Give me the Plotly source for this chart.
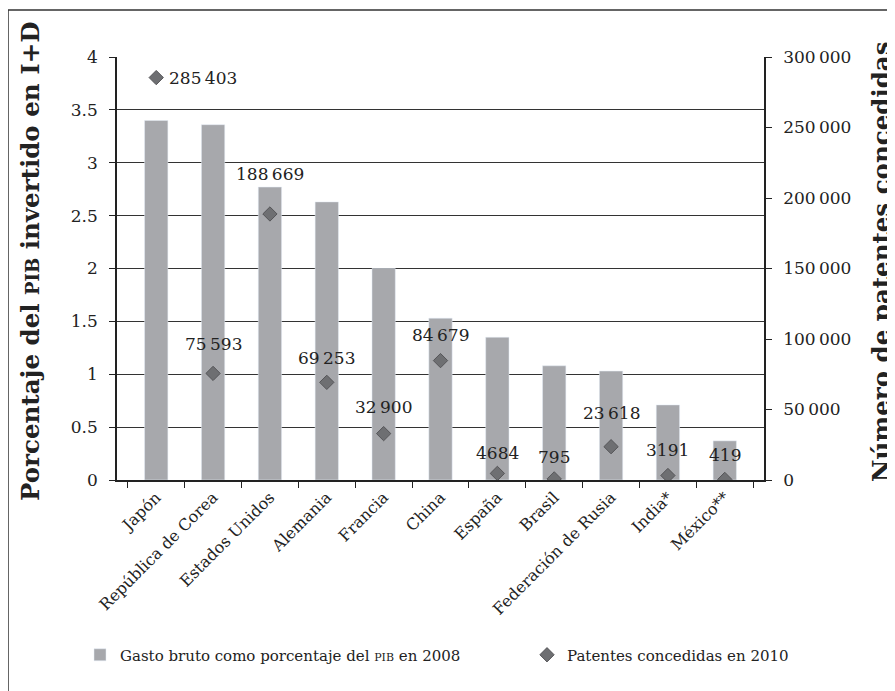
import plotly.graph_objects as go

categorias = ["Japón", "República de Corea", "Estados Unidos", "Alemania", "Francia",
              "China", "España", "Brasil", "Federación de Rusia", "India*", "México**"]
gasto_pib_2008 = [3.40, 3.36, 2.77, 2.63, 2.00, 1.53, 1.35, 1.08, 1.03, 0.71, 0.37]
patentes_2010 = [285403, 75593, 188669, 69253, 32900, 84679, 4684, 795, 23618, 3191, 419]
y1_ticks = [0, 0.5, 1, 1.5, 2, 2.5, 3, 3.5, 4]
y2_ticks = [0, 50000, 100000, 150000, 200000, 250000, 300000]
y2_ticktext = ["0", "50\u2009000", "100\u2009000", "150\u2009000", "200\u2009000", "250\u2009000", "300\u2009000"]

# label placement (style, pixels)
label_shift_y = [0, 29, 40, 24, 27, 26, 20, 22, 34, 26, 24]


def fmt(v):
    s = str(v)
    if v >= 10000:
        s = s[:-3] + "\u2009" + s[-3:]
    return s


FONT = "DejaVu Serif"
BAR = "#a7a8ac"
DIA = "#6e6f72"
TXT = "#222"

OFF = 8  # page body margin
W, H = 895 - OFF, 691 - OFF
L, R, T, B = 117 - OFF, 764 - OFF, 57 - OFF, 480 - OFF
pw, ph = R - L, B - T


def px(x):
    return (x - OFF - L) / pw


def py(y):
    return (B - (y - OFF)) / ph


fig = go.Figure()
fig.add_trace(go.Bar(
    x=categorias, y=gasto_pib_2008, marker_color=BAR, width=0.41,
    name="Gasto bruto como porcentaje del <span style='font-size:11px'>PIB</span> en 2008",
    yaxis="y", legend="legend",
))
fig.add_trace(go.Scatter(
    x=categorias, y=patentes_2010, mode="markers",
    marker=dict(symbol="diamond", size=11, color=DIA, line=dict(color="#555558", width=1)),
    name="Patentes concedidas en 2010", yaxis="y2", legend="legend2",
))

ann = []
for i, (c, v) in enumerate(zip(categorias, patentes_2010)):
    if i == 0:
        ann.append(dict(x=c, y=v, xref="x", yref="y2", text=fmt(v), showarrow=False,
                        xanchor="left", yanchor="middle", xshift=11,
                        font=dict(family=FONT, size=17, color=TXT)))
    else:
        ann.append(dict(x=c, y=v, xref="x", yref="y2", text=fmt(v), showarrow=False,
                        xanchor="center", yanchor="middle", yshift=label_shift_y[i],
                        font=dict(family=FONT, size=17, color=TXT)))

ann.append(dict(x=px(30), y=py(262), xref="paper", yref="paper", showarrow=False,
                textangle=-90, xanchor="center", yanchor="middle",
                text="<b>Porcentaje del <span style='font-size:18px'>PIB</span> invertido en I+D</b>",
                font=dict(family=FONT, size=24.5, color=TXT)))
ann.append(dict(x=px(881), y=py(262), xref="paper", yref="paper", showarrow=False,
                textangle=-90, xanchor="center", yanchor="middle",
                text="<b>Número de patentes concedidas</b>",
                font=dict(family=FONT, size=24.5, color=TXT)))

legfont = dict(family=FONT, size=15, color=TXT)
fig.update_layout(
    width=W, height=H,
    margin=dict(l=L, r=W - R, t=T, b=H - B, autoexpand=False),
    paper_bgcolor="white", plot_bgcolor="white",
    font=dict(family=FONT, size=16, color=TXT),
    showlegend=True,
    legend=dict(orientation="h", x=px(80), y=py(655), xanchor="left", yanchor="middle",
                font=legfont, bgcolor="rgba(0,0,0,0)"),
    legend2=dict(orientation="h", x=px(527), y=py(655), xanchor="left", yanchor="middle",
                 font=legfont, bgcolor="rgba(0,0,0,0)"),
    xaxis=dict(type="category", tickangle=-45, ticks="outside", tickson="boundaries",
               ticklen=6, tickcolor=TXT, showline=True, linecolor=TXT, linewidth=1.5,
               tickfont=dict(family=FONT, size=16, color=TXT), showgrid=False),
    yaxis=dict(range=[0, 4], tickvals=y1_ticks, showgrid=True, gridcolor="#333", gridwidth=1,
               showline=True, linecolor=TXT, linewidth=1.5, ticks="outside", ticklen=6,
               tickcolor=TXT, tickfont=dict(family=FONT, size=17, color=TXT),
               zeroline=False, ticklabelstandoff=8),
    yaxis2=dict(range=[0, 300000], tickvals=y2_ticks, ticktext=y2_ticktext, overlaying="y",
                side="right", showgrid=False, showline=True, linecolor=TXT, linewidth=1.5,
                ticks="outside", ticklen=6, tickcolor=TXT,
                tickfont=dict(family=FONT, size=17, color=TXT), zeroline=False,
                ticklabelstandoff=8),
    annotations=ann,
    shapes=[dict(type="rect", xref="paper", yref="paper", x0=px(8), y0=py(720), x1=px(920),
                 y1=py(10), line=dict(color="#333", width=1.5), fillcolor="rgba(0,0,0,0)",
                 layer="below")],
)

fig.write_html("out.html")
